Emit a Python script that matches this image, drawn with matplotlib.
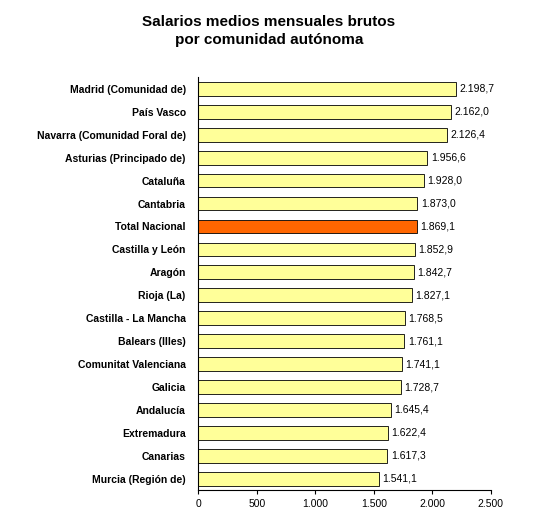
import matplotlib.pyplot as plt

plt.rcParams['font.family'] = ['Liberation Sans', 'DejaVu Sans']

regions = ['Madrid (Comunidad de)', 'País Vasco', 'Navarra (Comunidad Foral de)',
           'Asturias (Principado de)', 'Cataluña', 'Cantabria', 'Total Nacional',
           'Castilla y León', 'Aragón', 'Rioja (La)', 'Castilla - La Mancha',
           'Balears (Illes)', 'Comunitat Valenciana', 'Galicia', 'Andalucía',
           'Extremadura', 'Canarias', 'Murcia (Región de)']
salaries = [2198.7, 2162.0, 2126.4, 1956.6, 1928.0, 1873.0, 1869.1, 1852.9, 1842.7,
            1827.1, 1768.5, 1761.1, 1741.1, 1728.7, 1645.4, 1622.4, 1617.3, 1541.1]
ticks = [0, 500, 1000, 1500, 2000, 2500]
tick_labels = ['0', '500', '1.000', '1.500', '2.000', '2.500']

def fmt(v):
    return f'{v:,.1f}'.replace(',', 'X').replace('.', ',').replace('X', '.')

fig = plt.figure(figsize=(5.49, 5.16), dpi=100)
ax = fig.add_axes([0.361, 0.05, 0.533, 0.80])

colors = ['#FF6600' if r == 'Total Nacional' else '#FFFF99' for r in regions]
y = list(range(len(regions)))
ax.barh(y, salaries, height=0.6, color=colors, edgecolor='black', linewidth=0.6)
for yi, v in zip(y, salaries):
    ax.text(v + 30, yi, fmt(v), va='center', ha='left', fontsize=7.5)

ax.set_yticks(y)
ax.set_yticklabels(regions, fontsize=7.5, fontweight='bold')
ax.set_ylim(len(regions) - 0.5, -0.5)
ax.set_xlim(0, 2500)
ax.set_xticks(ticks)
ax.set_xticklabels(tick_labels, fontsize=7.5)
for s in ['top', 'right']:
    ax.spines[s].set_visible(False)
ax.tick_params(axis='y', length=0, pad=9)
ax.tick_params(axis='x', length=3)

fig.text(0.49, 0.94, 'Salarios medios mensuales brutos\npor comunidad autónoma',
         ha='center', va='center', fontsize=11, fontweight='bold', linespacing=1.4)

fig.savefig('out.png', dpi=100)
